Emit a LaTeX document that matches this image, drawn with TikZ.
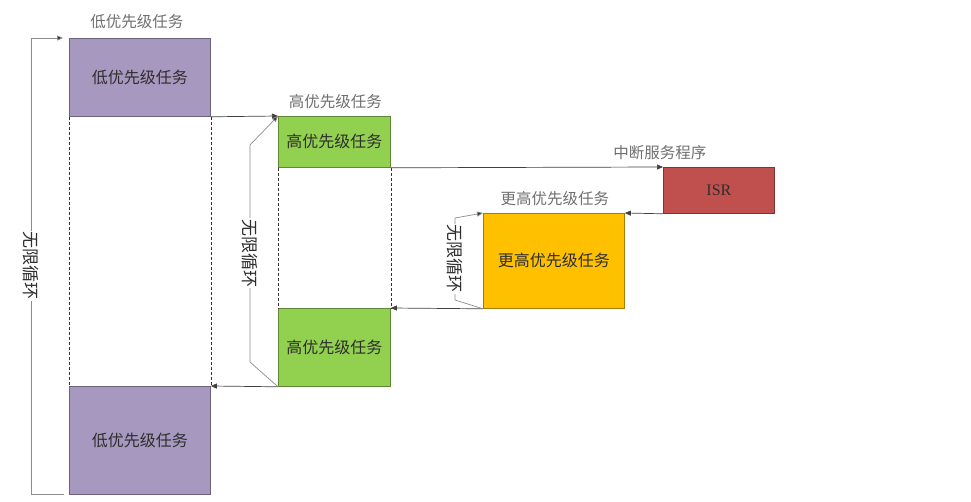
\documentclass[tikz,border=0pt]{standalone}
\usepackage{fontspec}
\setmainfont{Liberation Serif}
\newfontfamily\cjk{Noto Sans CJK SC}
\usetikzlibrary{arrows.meta}
\definecolor{lpc}{HTML}{A798BF}
\definecolor{hpc}{HTML}{92D050}
\definecolor{orc}{HTML}{FFC000}
\definecolor{isrc}{HTML}{C0504D}
\definecolor{labc}{HTML}{707070}
\definecolor{txtc}{HTML}{2E2E2E}
\tikzset{
  box/.style={draw=#1!65!black, fill=#1, line width=0.8pt, anchor=north west, inner sep=0pt,
    font=\cjk\fontsize{16}{19}\selectfont, text=txtc},
  toplab/.style={font=\cjk\fontsize{15.5}{18}\selectfont, text=labc, anchor=center},
  conn/.style={draw=black!75, line width=0.7pt, -{Triangle[length=6pt,width=5pt]}},
  dashline/.style={draw=black!80, line width=0.6pt, dash pattern=on 3pt off 2pt},
  loopline/.style={draw=black!45, line width=0.7pt},
  looplab/.style={fill=white, rotate=-90, inner sep=1pt, text=txtc, font=\cjk\fontsize{17}{20}\selectfont},
  looparrow/.style={draw=black!45, line width=0.7pt, -{Triangle[length=6pt,width=5pt,fill=black!80]}},
}
\begin{document}
\begin{tikzpicture}[x=1pt,y=-1pt]
\useasboundingbox[fill=white] (0,0) rectangle (971,502);
% boxes
\node[box=lpc, minimum width=141pt, minimum height=78pt] (lp1) at (69,38) {低优先级任务};
\node[box=lpc, minimum width=141pt, minimum height=108pt] (lp2) at (69,386) {低优先级任务};
\node[box=hpc, minimum width=112pt, minimum height=51pt] (hp1) at (278,116) {高优先级任务};
\node[box=hpc, minimum width=112pt, minimum height=78pt] (hp2) at (278,308) {高优先级任务};
\node[box=orc, minimum width=141pt, minimum height=95pt] (hh) at (483,213) {更高优先级任务};
\node[box=isrc, minimum width=111pt, minimum height=46pt, font=\fontsize{16}{18}\selectfont] (isr) at (663,167) {ISR};
% top labels
\node[toplab] (t1) at ([yshift=16pt,xshift=-3pt]lp1.north) {低优先级任务};
\node[toplab] (t2) at ([yshift=14pt,xshift=1pt]hp1.north) {高优先级任务};
\node[toplab] (t3) at ([yshift=14pt,xshift=-59pt]isr.north) {中断服务程序};
\node[toplab] (t4) at ([yshift=14pt,xshift=1pt]hh.north) {更高优先级任务};
% dashed continuation
\draw[dashline] (lp1.south west) -- (lp2.north west);
\draw[dashline] (lp1.south east) -- (lp2.north east);
\draw[dashline] (hp1.south west) -- (hp2.north west);
\draw[dashline] (hp1.south east) -- (hp2.north east);
% connectors
\draw[conn] (lp1.south east) -- (hp1.north west);
\draw[conn] (hp1.south east) -- (isr.north west);
\draw[conn] (isr.south west) -- (hh.north east);
\draw[conn] (hh.south west) -- (hp2.north east);
\draw[conn] (hp2.south west) -- (lp2.north east);
% loops
\coordinate (oa) at (64,494);
\coordinate (ob) at (31,494);
\coordinate (oc) at (31,38);
\draw[loopline] (oa) -- (ob) -- node[looplab] {无限循环} (oc);
\draw[looparrow, shorten >=6pt] (oc) -- (lp1.north west);
\coordinate (ma) at (250,362);
\coordinate (mb) at (250,145);
\draw[loopline] (hp2.south west) -- (ma) -- node[looplab] {无限循环} (mb);
\draw[looparrow] (mb) -- (hp1.north west);
\coordinate (ia) at (455,300);
\coordinate (ib) at (455,218);
\draw[loopline] (hh.south west) -- (ia) -- node[looplab] {无限循环} (ib);
\draw[looparrow] (ib) -- (hh.north west);
\end{tikzpicture}
\end{document}
